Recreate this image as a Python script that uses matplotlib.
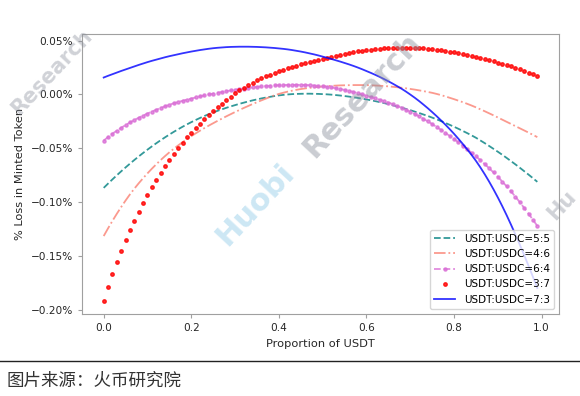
import numpy as np
import matplotlib
matplotlib.use("Agg")
import matplotlib.pyplot as plt
from matplotlib.ticker import PercentFormatter, MultipleLocator
from matplotlib.lines import Line2D

# proportion of USDT in the pool (x axis)
proportion = np.round(np.arange(100) * 0.01, 2)

# % loss in minted token
loss_55 = [
    -0.0867, -0.0827, -0.0788, -0.0750, -0.0713, -0.0677, -0.0642, -0.0608, -0.0575, -0.0543,
    -0.0512, -0.0482, -0.0453, -0.0425, -0.0398, -0.0372, -0.0347, -0.0323, -0.0300, -0.0278,
    -0.0257, -0.0237, -0.0218, -0.0200, -0.0183, -0.0167, -0.0152, -0.0138, -0.0124, -0.0111,
    -0.0099, -0.0087, -0.0076, -0.0065, -0.0055, -0.0046, -0.0037, -0.0029, -0.0022, -0.0015,
    -0.0009, -0.0004, 0.0000, 0.0003, 0.0005, 0.0006, 0.0007, 0.0007, 0.0006, 0.0005,
    0.0003, 0.0001, -0.0002, -0.0006, -0.0010, -0.0015, -0.0020, -0.0026, -0.0032, -0.0039,
    -0.0046, -0.0054, -0.0062, -0.0071, -0.0080, -0.0090, -0.0100, -0.0111, -0.0122, -0.0134,
    -0.0146, -0.0159, -0.0172, -0.0186, -0.0200, -0.0215, -0.0231, -0.0247, -0.0264, -0.0282,
    -0.0300, -0.0319, -0.0339, -0.0359, -0.0380, -0.0402, -0.0427, -0.0452, -0.0478, -0.0505,
    -0.0532, -0.0560, -0.0589, -0.0619, -0.0649, -0.0680, -0.0712, -0.0744, -0.0777, -0.0811,
]
loss_46 = [
    -0.1314, -0.1242, -0.1173, -0.1107, -0.1044, -0.0984, -0.0927, -0.0874, -0.0824, -0.0777,
    -0.0732, -0.0689, -0.0648, -0.0609, -0.0572, -0.0537, -0.0504, -0.0473, -0.0443, -0.0414,
    -0.0387, -0.0361, -0.0336, -0.0312, -0.0289, -0.0267, -0.0245, -0.0224, -0.0203, -0.0183,
    -0.0163, -0.0144, -0.0125, -0.0107, -0.0089, -0.0072, -0.0055, -0.0039, -0.0023, -0.0008,
    0.0005, 0.0016, 0.0026, 0.0035, 0.0043, 0.0050, 0.0056, 0.0061, 0.0066, 0.0070,
    0.0074, 0.0077, 0.0080, 0.0082, 0.0084, 0.0085, 0.0086, 0.0087, 0.0087, 0.0087,
    0.0086, 0.0085, 0.0083, 0.0081, 0.0078, 0.0075, 0.0071, 0.0067, 0.0062, 0.0057,
    0.0051, 0.0045, 0.0038, 0.0031, 0.0023, 0.0015, 0.0005, -0.0006, -0.0018, -0.0031,
    -0.0044, -0.0058, -0.0072, -0.0087, -0.0103, -0.0120, -0.0138, -0.0156, -0.0175, -0.0194,
    -0.0214, -0.0234, -0.0254, -0.0274, -0.0294, -0.0314, -0.0334, -0.0354, -0.0375, -0.0396,
]
loss_64 = [
    -0.0428, -0.0395, -0.0364, -0.0336, -0.0309, -0.0284, -0.0260, -0.0237, -0.0216, -0.0196,
    -0.0177, -0.0159, -0.0142, -0.0126, -0.0110, -0.0095, -0.0082, -0.0070, -0.0059, -0.0048,
    -0.0038, -0.0028, -0.0018, -0.0009, 0.0000, 0.0008, 0.0016, 0.0023, 0.0030, 0.0037,
    0.0044, 0.0050, 0.0055, 0.0060, 0.0065, 0.0070, 0.0074, 0.0078, 0.0081, 0.0084,
    0.0086, 0.0087, 0.0088, 0.0089, 0.0089, 0.0089, 0.0088, 0.0086, 0.0083, 0.0080,
    0.0076, 0.0071, 0.0065, 0.0058, 0.0050, 0.0042, 0.0033, 0.0023, 0.0012, 0.0000,
    -0.0012, -0.0024, -0.0036, -0.0049, -0.0062, -0.0075, -0.0090, -0.0106, -0.0123, -0.0141,
    -0.0160, -0.0181, -0.0203, -0.0226, -0.0250, -0.0275, -0.0301, -0.0328, -0.0356, -0.0385,
    -0.0415, -0.0445, -0.0476, -0.0508, -0.0541, -0.0575, -0.0610, -0.0647, -0.0685, -0.0724,
    -0.0765, -0.0808, -0.0853, -0.0900, -0.0949, -0.1000, -0.1053, -0.1107, -0.1163, -0.1220,
]
loss_37 = [
    -0.1919, -0.1790, -0.1670, -0.1558, -0.1453, -0.1354, -0.1260, -0.1171, -0.1087, -0.1007,
    -0.0931, -0.0859, -0.0791, -0.0726, -0.0664, -0.0605, -0.0549, -0.0496, -0.0446, -0.0399,
    -0.0354, -0.0311, -0.0270, -0.0231, -0.0192, -0.0155, -0.0119, -0.0085, -0.0052, -0.0021,
    0.0009, 0.0037, 0.0063, 0.0087, 0.0109, 0.0130, 0.0149, 0.0167, 0.0184, 0.0200,
    0.0215, 0.0229, 0.0242, 0.0255, 0.0267, 0.0279, 0.0290, 0.0301, 0.0312, 0.0322,
    0.0332, 0.0342, 0.0351, 0.0360, 0.0369, 0.0378, 0.0386, 0.0393, 0.0400, 0.0406,
    0.0411, 0.0416, 0.0420, 0.0424, 0.0427, 0.0430, 0.0432, 0.0433, 0.0434, 0.0434,
    0.0433, 0.0432, 0.0430, 0.0427, 0.0424, 0.0420, 0.0415, 0.0410, 0.0404, 0.0397,
    0.0390, 0.0382, 0.0374, 0.0365, 0.0356, 0.0347, 0.0338, 0.0328, 0.0318, 0.0307,
    0.0296, 0.0285, 0.0274, 0.0261, 0.0247, 0.0233, 0.0218, 0.0203, 0.0188, 0.0172,
]
loss_73 = [
    0.0157, 0.0173, 0.0188, 0.0203, 0.0218, 0.0232, 0.0246, 0.0260, 0.0274, 0.0287,
    0.0300, 0.0312, 0.0323, 0.0334, 0.0345, 0.0355, 0.0364, 0.0373, 0.0382, 0.0390,
    0.0398, 0.0405, 0.0412, 0.0418, 0.0424, 0.0429, 0.0433, 0.0436, 0.0439, 0.0441,
    0.0442, 0.0443, 0.0443, 0.0443, 0.0442, 0.0441, 0.0439, 0.0437, 0.0434, 0.0431,
    0.0427, 0.0423, 0.0418, 0.0412, 0.0405, 0.0398, 0.0390, 0.0381, 0.0372, 0.0362,
    0.0351, 0.0340, 0.0329, 0.0317, 0.0305, 0.0292, 0.0279, 0.0265, 0.0250, 0.0234,
    0.0217, 0.0200, 0.0182, 0.0163, 0.0143, 0.0122, 0.0100, 0.0077, 0.0053, 0.0027,
    -0.0001, -0.0030, -0.0061, -0.0094, -0.0128, -0.0164, -0.0201, -0.0240, -0.0280, -0.0322,
    -0.0366, -0.0412, -0.0460, -0.0510, -0.0562, -0.0617, -0.0677, -0.0741, -0.0809, -0.0881,
    -0.0957, -0.1037, -0.1121, -0.1209, -0.1300, -0.1394, -0.1491, -0.1591, -0.1693, -0.1797,
]

labels = ['USDT:USDC=5:5', 'USDT:USDC=4:6', 'USDT:USDC=6:4',
          'USDT:USDC=3:7', 'USDT:USDC=7:3']

text_col = '#262626'
edge_col = '#a0a0a0'

fig = plt.figure(figsize=(5.8, 3.96), dpi=100)
ax = fig.add_axes([0.1414, 0.2071, 0.8224, 0.7071])

ax.plot(proportion, loss_55, '--', color='teal', alpha=0.8, lw=1.3, label=labels[0])
ax.plot(proportion, loss_46, '-.', color='salmon', alpha=0.8, lw=1.3, label=labels[1])
ax.plot(proportion, loss_64, '--', marker='.', ms=4.5, color='orchid', alpha=0.8,
        lw=1.3, label=labels[2])
ax.plot(proportion, loss_37, '.', ms=5, color='red', alpha=0.8, label=labels[3])
ax.plot(proportion, loss_73, '-', color='blue', alpha=0.8, lw=1.3, label=labels[4])

ax.yaxis.set_major_locator(MultipleLocator(0.05))
ax.yaxis.set_major_formatter(PercentFormatter(xmax=100, decimals=2))
ax.tick_params(labelsize=7.6, colors=text_col, length=3, width=0.8, color=edge_col)
for sp in ax.spines.values():
    sp.set_color(edge_col)
    sp.set_linewidth(0.8)

ax.set_xlabel('Proportion of USDT', fontsize=8.2, color=text_col)
ax.set_ylabel('% Loss in Minted Token', fontsize=8.2, color=text_col)

ax.legend(loc='lower right', fontsize=7.5)

# watermark
wm = dict(fontweight='bold', rotation=47, ha='center', va='center',
          zorder=10, transform=fig.transFigure)
fig.text(255 / 580, 1 - 205 / 396, 'Huobi', fontsize=22, color='#8fcbe8', alpha=0.45, **wm)
fig.text(362 / 580, 1 - 95 / 396, 'Research', fontsize=22, color='#8a8f9c', alpha=0.45, **wm)
fig.text(52 / 580, 1 - 72 / 396, 'Research', fontsize=15, color='#8a8f9c', alpha=0.4, **wm)
fig.text(562 / 580, 1 - 205 / 396, 'Hu', fontsize=15, color='#8a8f9c', alpha=0.4, **wm)

# caption below the chart
fig.add_artist(Line2D([0, 1], [1 - 360.5 / 396] * 2, transform=fig.transFigure,
                      color='#222222', lw=1))
fig.text(7 / 580, 1 - 381 / 396, '图片来源：火币研究院', fontsize=12.6,
         family=['Noto Sans CJK SC', 'DejaVu Sans'], color='#333333', va='center')

fig.savefig('out.png', dpi=100)
